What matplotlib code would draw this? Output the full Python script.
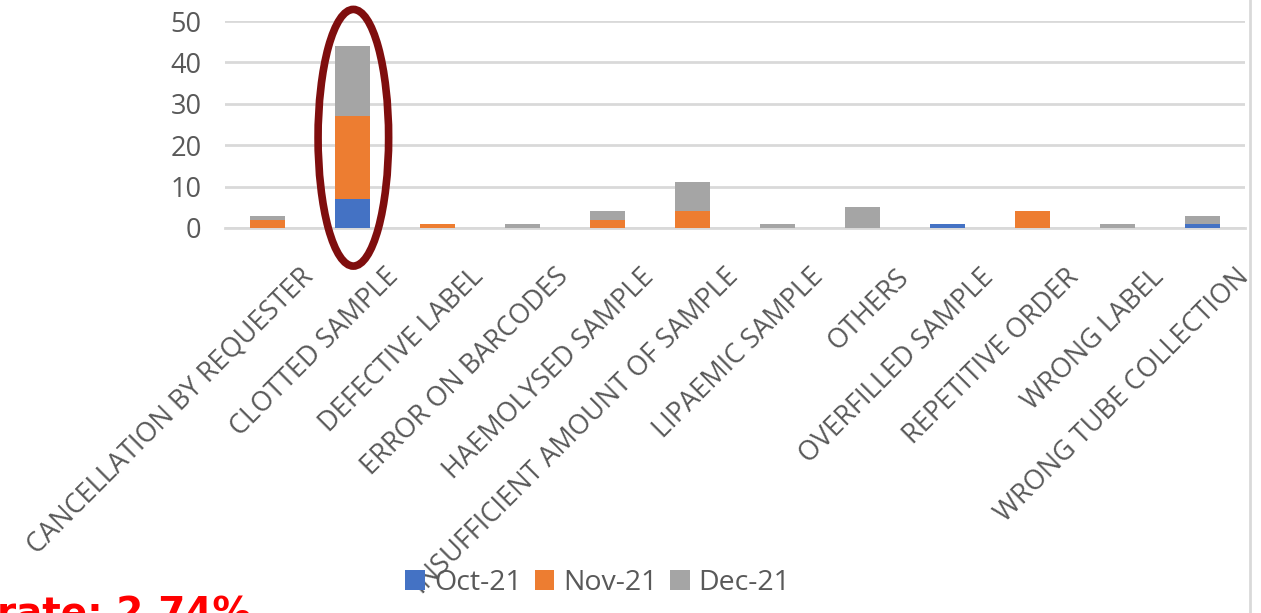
import matplotlib
matplotlib.use("Agg")
import matplotlib.pyplot as plt
import matplotlib.transforms as mtransforms
from matplotlib.patches import Ellipse
import numpy as np

categories = [
    "CANCELLATION BY REQUESTER", "CLOTTED SAMPLE", "DEFECTIVE LABEL",
    "ERROR ON BARCODES", "HAEMOLYSED SAMPLE", "INSUFFICIENT AMOUNT OF SAMPLE",
    "LIPAEMIC SAMPLE", "OTHERS", "OVERFILLED SAMPLE", "REPETITIVE ORDER",
    "WRONG LABEL", "WRONG TUBE COLLECTION",
]
oct_21 = [0, 7, 0, 0, 0, 0, 0, 0, 1, 0, 0, 1]
nov_21 = [2, 20, 1, 0, 2, 4, 0, 0, 0, 4, 0, 0]
dec_21 = [1, 17, 0, 1, 2, 7, 1, 5, 0, 0, 1, 2]
series_names = ["Oct-21", "Nov-21", "Dec-21"]
series_colors = ["#4472C4", "#ED7D31", "#A5A5A5"]
y_ticks = [0, 10, 20, 30, 40, 50]

plt.rcParams["font.family"] = ["Open Sans", "DejaVu Sans"]
TEXT_GREY = "#595959"

W, H = 1261, 613
fig = plt.figure(figsize=(W / 100, H / 100), dpi=100)
ax = fig.add_axes([225 / W, 1 - 228 / H, 1020 / W, 207 / H])

x = np.arange(len(categories))
bottom = np.zeros(len(categories))
handles = []
for name, vals, col in zip(series_names, [oct_21, nov_21, dec_21], series_colors):
    b = ax.bar(x, vals, width=0.41, bottom=bottom, color=col, label=name, zorder=3)
    handles.append(b)
    bottom += np.array(vals)

ax.set_xlim(-0.5, len(categories) - 0.5)
ax.set_ylim(0, 50)
ax.set_yticks(y_ticks)
ax.set_yticklabels([str(t) for t in y_ticks], fontsize=19.5, color=TEXT_GREY)
ax.yaxis.grid(True, color="#D9D9D9", linewidth=2, zorder=0)
ax.tick_params(axis="y", length=0, pad=17)
ax.tick_params(axis="x", length=0)
for s in ["top", "right", "left"]:
    ax.spines[s].set_visible(False)
ax.spines["bottom"].set_color("#D9D9D9")
ax.spines["bottom"].set_linewidth(2)

# rotated category labels
ax.set_xticks(x)
ax.set_xticklabels([])
offset = mtransforms.ScaledTranslation(0.42, -0.45, fig.dpi_scale_trans)
for xi, lab in zip(x, categories):
    ax.text(xi, 0, lab, rotation=45, ha="right", va="center",
            rotation_mode="anchor", fontsize=19.5, color=TEXT_GREY,
            transform=ax.get_xaxis_transform() + offset, clip_on=False)

# highlight ring around the largest bar
ring = Ellipse((1.01, 21.8), width=0.83, height=62, fill=False,
               edgecolor="#7F0E0E", linewidth=5.5, zorder=5, clip_on=False)
ax.add_patch(ring)

fig.legend(handles=handles, labels=series_names, loc="center",
           bbox_to_anchor=(598 / W, 1 - 583 / H), ncol=3, frameon=False,
           fontsize=20.5, handlelength=0.7, handleheight=0.7, handletextpad=0.3,
           columnspacing=0.45, labelcolor=TEXT_GREY)

# chart frame edge on the right
fig.add_artist(plt.Line2D([1250 / W, 1250 / W], [0, 1], color="#D9D9D9",
                          linewidth=2, transform=fig.transFigure))

fig.text(-0.002, 1 - 596 / H, "rate: 2.74%", color="#FF0000", fontsize=28,
         fontweight="bold", family="DejaVu Sans", ha="left", va="top")

fig.savefig("out.png", dpi=100)
